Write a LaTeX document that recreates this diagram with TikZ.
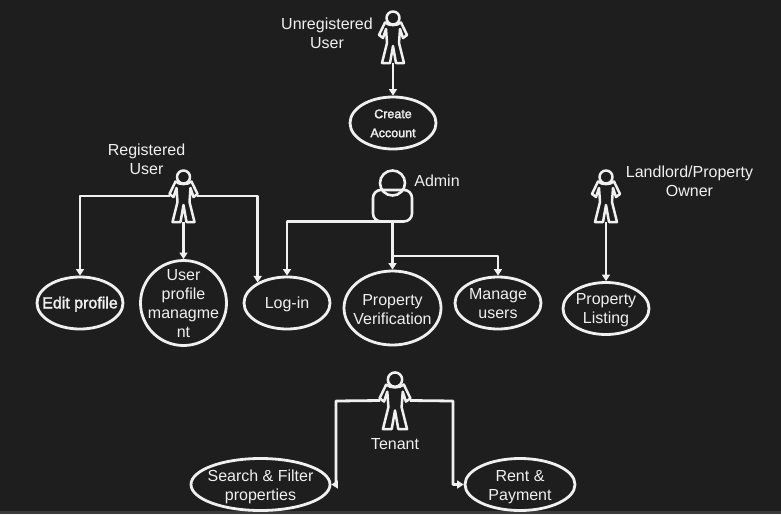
\documentclass[tikz,border=0pt]{standalone}
\usepackage{fontspec}
\setmainfont{Liberation Sans}
\newfontfamily\fakeboldfont[FakeBold=2]{Liberation Sans}
\usetikzlibrary{shapes.geometric,arrows.meta}
\definecolor{bgdark}{HTML}{1E1E1E}
\definecolor{stripgrey}{HTML}{3A3A3A}
\definecolor{ink}{HTML}{F0F0F0}
\tikzset{
  x=1pt,y=-1pt,
  tx/.style={text=ink,align=center,inner sep=0pt,yshift=-1.2pt,font=\fontsize{16}{19}\selectfont},
  usecase/.style={ellipse,draw=ink,line width=2.8pt,inner sep=0pt,minimum width=#1},
  link/.style={draw=ink,line width=2.8pt,line join=round,-{Triangle[length=6.5pt,width=8pt]}},
  actorbox/.style={inner sep=0pt,outer sep=0pt,minimum width=#1*27pt,minimum height=#1*52pt},
  actorfig/.pic={
    \draw[ink,line width=2.5pt,line join=round] (0,-19) circle[radius=6.5];
    \draw[ink,line width=2.5pt,line join=round]
      (-8,-14.5) -- (-14,-2) -- (-10,1) -- (-7,-8) -- (-6,6) -- (-11,26) -- (-3,26)
      -- (0,9) -- (3,26) -- (11,26) -- (6,6) -- (7,-8) -- (10,1) -- (14,-2) -- (8,-14.5)
      .. controls (4,-11) and (-4,-11) .. cycle;
  }
}
\begin{document}
\begin{tikzpicture}
\useasboundingbox (0,0) rectangle (781,514);
\fill[bgdark] (0,0) rectangle (781,514);
\fill[stripgrey] (0,511) rectangle (781,514);

% actors
\node[actorbox=1] (unreg) at (393,37) {};
\pic at (unreg.center) {actorfig};
\node[actorbox=1] (reg) at (183.5,196) {};
\pic at (reg.center) {actorfig};
\node[actorbox=1] (owner) at (606,196) {};
\pic at (owner.center) {actorfig};
\node[actorbox=1.1] (tenant) at (395,400.5) {};
\pic[scale=1.1] at (tenant.center) {actorfig};

% admin
\node[draw=ink,line width=2.6pt,circle,outer sep=0pt,minimum size=25pt,inner sep=0pt] (adminhead) at (392.5,183) {};
\node[draw=ink,line width=2.6pt,rectangle,outer sep=0pt,rounded corners=8pt,minimum width=39pt,minimum height=31.5pt,inner sep=0pt] (admin) at (392.5,205.7) {};

% actor labels
\node[tx] (t1) at (327,32.5) {Unregistered\\User};
\node[tx] (t2) at (146.5,157.7) {Registered\\User};
\node[tx] (t3) at (437,179.2) {Admin};
\node[tx] (t4) at (689.5,179.7) {Landlord/Property\\Owner};
\node[tx] (t5) at (395,443.2) {Tenant};

% use cases
\node[usecase=86pt,minimum height=52pt,label={[tx,yshift=0.8pt,font=\fakeboldfont\fontsize{12.5}{19}\selectfont]center:{Create\\Account}}] (create) at (393,123) {};
\node[usecase=86pt,minimum height=52pt,label={[tx,font=\fakeboldfont\fontsize{16}{19}\selectfont]center:{Edit profile}}] (edit) at (80,303) {};
\node[usecase=86pt,minimum height=85pt,label={[tx,yshift=0.8pt]center:{User\\profile\\managme\\nt}}] (profile) at (183.5,303) {};
\node[usecase=86pt,minimum height=52pt,label={[tx]center:{Log-in}}] (login) at (287,303) {};
\node[usecase=97pt,minimum height=74pt,label={[tx]center:{Property\\Verification}}] (verify) at (392.5,308) {};
\node[usecase=86pt,minimum height=52pt,label={[tx,yshift=1pt]center:{Manage\\users}}] (manage) at (498,303) {};
\node[usecase=86pt,minimum height=52pt,label={[tx,yshift=-0.8pt]center:{Property\\Listing}}] (listing) at (606,308.5) {};
\node[usecase=139pt,minimum height=52pt,label={[tx,yshift=-1pt]center:{Search \& Filter\\properties}}] (search) at (260.5,484.5) {};
\node[usecase=110pt,minimum height=52pt,label={[tx,yshift=-1pt]center:{Rent \&\\Payment}}] (rent) at (520,484.5) {};

% helper points
\coordinate (tl) at (336,401);
\coordinate (tr) at (453,401);
\coordinate (branch) at (392.5,256);

% connectors
\draw[link] (unreg.south) -- (create.north);
\draw[link] (reg.west) -| (edit.north);
\draw[link] (reg.south) -- (profile.north);
\draw[link] (reg.east) -| (login.145);
\draw[link] (admin.south) -| (login.north);
\draw[link] (admin.south) -- (verify.north);
\draw[link] (branch) -| (manage.north);
\draw[link] (owner.south) -- (listing.north);
\draw[link] (tenant.west) -- (tl) |- (search.east);
\draw[link] (tenant.east) -- (tr) |- (rent.west);
\end{tikzpicture}
\end{document}
